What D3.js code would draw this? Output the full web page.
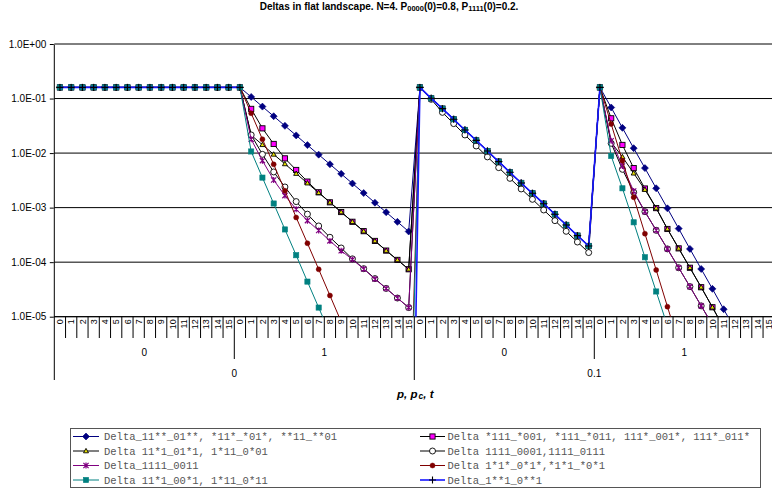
<!DOCTYPE html>
<html>
<head>
<meta charset="utf-8">
<script src="https://cdn.jsdelivr.net/npm/d3@7"></script>
<style>
  html, body { margin: 0; padding: 0; background: #fff; }
  svg { display: block; font-family: Arial, "Liberation Sans", sans-serif; }
</style>
</head>
<body>
<svg id="chart" width="772" height="492"></svg>
<script>
// ---- category levels: p (mutation), pc (crossover), t (generation) ----
const tSteps = ["0","1","2","3","4","5","6","7","8","9","10","11","12","13","14","15"];
const pcLevels = ["0", "1"];
const pLevels = ["0", "0.1"];
const yTicks = [1, 1e-1, 1e-2, 1e-3, 1e-4, 1e-5];

// ---- series values, one block of 16 generations per (p, pc) pair ----
// null = value that cannot be shown on the log axis (exact zero)
const noVariation = [0.16,0.16,0.16,0.16,0.16,0.16,0.16,0.16,0.16,0.16,0.16,0.16,0.16,0.16,0.16,0.16];
const mutationOnly = [0.16,0.101,0.0653,0.0416,0.0265,0.0171,0.0109,0.00697,0.00444,0.00283,0.00183,0.00118,7.55e-4,4.81e-4,3.06e-4,1.98e-4];

const delta11_01 = [...noVariation,
  0.16,0.107,0.0711,0.0474,0.0316,0.0211,0.0140,0.00936,0.00624,0.00416,0.00277,0.00185,0.00123,8.22e-4,5.48e-4,3.65e-4,
  ...mutationOnly,
  0.16,0.0685,0.0290,0.0123,0.00530,0.00226,9.7e-4,4.12e-4,1.75e-4,7.5e-5,3.24e-5,1.37e-5,5.9e-6,2.5e-6,1.07e-6,4.6e-7];

const delta111_001 = [...noVariation,
  0.16,0.0646,0.0284,0.0147,0.0080,0.0049,0.0030,0.00191,0.00125,8.3e-4,5.5e-4,3.7e-4,2.45e-4,1.63e-4,1.10e-4,7.41e-5,
  ...mutationOnly,
  0.16,0.0434,0.0141,0.0053,0.00224,9.8e-4,4.06e-4,1.79e-4,7.9e-5,3.47e-5,1.49e-5,6.3e-6,2.7e-6,1.15e-6,4.9e-7,2.1e-7];

const delta11x1_01x1 = [...noVariation,
  0.16,0.0213,0.0142,0.00948,0.00632,0.00421,0.00281,0.00187,0.00125,8.3e-4,5.5e-4,3.7e-4,2.45e-4,1.63e-4,1.10e-4,7.41e-5,
  ...mutationOnly,
  0.16,0.0158,0.0085,0.00427,0.00214,9.8e-4,4.06e-4,1.79e-4,7.9e-5,3.47e-5,1.49e-5,6.3e-6,2.7e-6,1.15e-6,4.9e-7,2.1e-7];

const delta1111_0001 = [...noVariation,
  0.16,0.0215,0.00948,0.00451,0.00239,0.00129,7.59e-4,4.61e-4,2.86e-4,1.82e-4,1.15e-4,7.6e-5,5.0e-5,3.3e-5,2.2e-5,1.47e-5,
  0.16,0.0968,0.0558,0.0347,0.0215,0.0135,0.00851,0.00541,0.00344,0.00220,0.00142,9.06e-4,5.77e-4,3.68e-4,2.34e-4,1.50e-4,
  0.16,0.0151,0.00504,0.00191,8.43e-4,3.84e-4,1.75e-4,7.9e-5,3.56e-5,1.58e-5,7.1e-6,3.2e-6,1.4e-6,6.4e-7,2.9e-7,1.3e-7];

const delta1111_0011 = [...noVariation,
  0.16,0.0179,0.00726,0.00321,0.00166,9.33e-4,5.77e-4,3.80e-4,2.45e-4,1.62e-4,1.12e-4,7.5e-5,4.9e-5,3.3e-5,2.2e-5,1.47e-5,
  ...mutationOnly,
  0.16,0.0169,0.0058,0.00202,8.43e-4,3.84e-4,1.75e-4,7.9e-5,3.56e-5,1.58e-5,7.1e-6,3.2e-6,1.4e-6,6.4e-7,2.9e-7,1.3e-7];

const delta1x1x_0x1x = [...noVariation,
  0.16,0.0537,0.0179,0.00622,0.00204,6.6e-4,2.22e-4,7.4e-5,2.45e-5,8.1e-6,2.7e-6,9.0e-7,3.0e-7,1.0e-7,3.3e-8,1.1e-8,
  ...mutationOnly,
  0.16,0.0341,0.00726,0.00155,3.33e-4,7.2e-5,1.53e-5,3.3e-6,7.0e-7,1.5e-7,3.2e-8,6.8e-9,1.5e-9,3.1e-10,6.6e-11,1.4e-11];

const delta11x1_00x1 = [...noVariation,
  0.16,0.0107,0.00355,0.00119,3.98e-4,1.34e-4,4.4e-5,1.47e-5,4.9e-6,1.6e-6,5.4e-7,1.8e-7,6.0e-8,2.0e-8,6.7e-9,2.2e-9,
  ...mutationOnly,
  0.16,0.00885,0.00226,5.38e-4,1.23e-4,2.9e-5,6.8e-6,1.6e-6,3.5e-7,7.5e-8,1.6e-8,3.4e-9,7.3e-10,1.6e-10,3.3e-11,7.1e-12];

const delta1xx1_0xx1 = [...noVariation,
  0.16,null,null,null,null,null,null,null,null,null,null,null,null,null,null,2.5e-13,
  ...mutationOnly,
  0.16,null,null,null,null,null,null,null,null,null,null,null,null,null,null,null];

const seriesNames = [
  "Delta_11**_01**, *11*_*01*, **11_**01",
  "Delta *111_*001, *111_*011, 111*_001*, 111*_011*",
  "Delta 11*1_01*1, 1*11_0*01",
  "Delta 1111_0001,1111_0111",
  "Delta_1111_0011",
  "Delta 1*1*_0*1*,*1*1_*0*1",
  "Delta 11*1_00*1, 1*11_0*11",
  "Delta_1**1_0**1"
];
const seriesValues = [delta11_01, delta111_001, delta11x1_01x1, delta1111_0001,
                      delta1111_0011, delta1x1x_0x1x, delta11x1_00x1, delta1xx1_0xx1];

// ---- drawing styles ----
const styles = [
  { line: "#000080", width: 1,   marker: "diamond" },
  { line: "#000000", width: 1,   marker: "squareMagenta" },
  { line: "#000000", width: 1,   marker: "triangle" },
  { line: "#000000", width: 1,   marker: "circleOpen" },
  { line: "#800080", width: 1,   marker: "star" },
  { line: "#800000", width: 1,   marker: "dot" },
  { line: "#008080", width: 1,   marker: "squareTeal" },
  { line: "#1515ff", width: 1.6, marker: "plus" }
];

const categories = [];
pLevels.forEach(p => pcLevels.forEach(pc => tSteps.forEach(t => categories.push({ p, pc, t }))));

const svg = d3.select("#chart");
const plotL = 54.3, plotR = 774.3, plotT = 44, plotB = 316.7;

const x = d3.scaleBand().domain(d3.range(categories.length)).range([plotL, plotR]);
const step = x.step();
const cx = i => x(i) + x.bandwidth() / 2;
const y = d3.scaleLog().domain([1e-5, 1]).range([plotB, plotT]);

// ---- title ----
const title = svg.append("text")
  .attr("x", 389).attr("y", 10)
  .attr("text-anchor", "middle")
  .attr("font-size", 10).attr("font-weight", "bold");
title.append("tspan").text("Deltas in flat landscape. N=4. P");
title.append("tspan").attr("font-size", 7.5).attr("dy", 0.5).text("0000");
title.append("tspan").attr("dy", -0.5).text("(0)=0.8, P");
title.append("tspan").attr("font-size", 7.5).attr("dy", 0.5).text("1111");
title.append("tspan").attr("dy", -0.5).text("(0)=0.2.");

// ---- horizontal gridlines ----
svg.append("g").selectAll("line").data(yTicks).join("line")
  .attr("x1", plotL).attr("x2", 772)
  .attr("y1", d => y(d)).attr("y2", d => y(d))
  .attr("stroke", "#000").attr("stroke-width", 1);

// ---- y axis ----
const fmtExp = d => {
  const e = Math.round(Math.log10(d));
  return "1.0E" + (e < 0 ? "-" : "+") + String(Math.abs(e)).padStart(2, "0");
};
const yAxis = svg.append("g")
  .attr("transform", `translate(${plotL - 0.5},0)`)
  .call(d3.axisLeft(y).tickValues(yTicks).tickSize(4).tickSizeOuter(0).tickFormat(fmtExp));
yAxis.select(".domain").attr("stroke", "#000");
yAxis.selectAll(".tick line").attr("stroke", "#000");
yAxis.selectAll(".tick text")
  .attr("font-family", "Arial, 'Liberation Sans', sans-serif")
  .attr("font-size", 10).attr("fill", "#000").attr("x", -7.5);

// ---- x axis (three category levels) ----
const xg = svg.append("g");
xg.append("line").attr("x1", plotL).attr("x2", plotR)
  .attr("y1", plotB).attr("y2", plotB).attr("stroke", "#000");

const boundaries = d3.range(categories.length + 1);
xg.selectAll("line.sep").data(boundaries).join("line")
  .attr("class", "sep")
  .attr("x1", i => plotL + i * step).attr("x2", i => plotL + i * step)
  .attr("y1", plotB)
  .attr("y2", i => i % 32 === 0 ? 380 : (i % 16 === 0 ? 359 : 338))
  .attr("stroke", "#000").attr("stroke-width", 1);

xg.selectAll("text.t").data(categories).join("text")
  .attr("class", "t")
  .attr("transform", (d, i) => `translate(${cx(i) + 3.2},${plotB + 2.5}) rotate(-90)`)
  .attr("text-anchor", "end")
  .attr("font-size", 9)
  .text(d => d.t);

const pcGroups = d3.range(categories.length / 16);
xg.selectAll("text.pc").data(pcGroups).join("text")
  .attr("class", "pc")
  .attr("x", g => plotL + (g * 16 + 8) * step).attr("y", 355.5)
  .attr("text-anchor", "middle").attr("font-size", 10)
  .text(g => categories[g * 16].pc);

const pGroups = d3.range(categories.length / 32);
xg.selectAll("text.p").data(pGroups).join("text")
  .attr("class", "p")
  .attr("x", g => plotL + (g * 32 + 16) * step).attr("y", 377)
  .attr("text-anchor", "middle").attr("font-size", 10)
  .text(g => categories[g * 32].p);

const xTitle = svg.append("text")
  .attr("x", (plotL + plotR) / 2 + 1).attr("y", 398)
  .attr("text-anchor", "middle")
  .attr("font-size", 11.5).attr("font-weight", "bold").attr("font-style", "italic");
xTitle.append("tspan").text("p, p");
xTitle.append("tspan").attr("font-size", 8.5).attr("dx", 1).attr("dy", 1).text("c");
xTitle.append("tspan").attr("dy", -1).text(", t");

// ---- markers ----
function drawMarker(g, type, mx, my) {
  switch (type) {
    case "diamond":
      g.append("path").attr("d", `M${mx},${my - 3.5}L${mx + 3.5},${my}L${mx},${my + 3.5}L${mx - 3.5},${my}Z`)
        .attr("fill", "#000080").attr("stroke", "#000080").attr("stroke-width", 0.6);
      break;
    case "squareMagenta":
      g.append("rect").attr("x", mx - 2.6).attr("y", my - 2.6).attr("width", 5.2).attr("height", 5.2)
        .attr("fill", "#ff00ff").attr("stroke", "#000").attr("stroke-width", 0.9);
      break;
    case "triangle":
      g.append("path").attr("d", `M${mx},${my - 2.6}L${mx + 2.5},${my + 1.8}L${mx - 2.5},${my + 1.8}Z`)
        .attr("fill", "#e8e000").attr("stroke", "#000").attr("stroke-width", 0.9);
      break;
    case "circleOpen":
      g.append("circle").attr("cx", mx).attr("cy", my).attr("r", 3)
        .attr("fill", "#fff").attr("stroke", "#000").attr("stroke-width", 0.9);
      break;
    case "star":
      g.append("path").attr("d",
        `M${mx - 2.6},${my - 2.6}L${mx + 2.6},${my + 2.6}M${mx - 2.6},${my + 2.6}L${mx + 2.6},${my - 2.6}M${mx},${my - 3}L${mx},${my + 3}`)
        .attr("stroke", "#800080").attr("stroke-width", 1.2).attr("fill", "none");
      break;
    case "dot":
      g.append("circle").attr("cx", mx).attr("cy", my).attr("r", 2.5)
        .attr("fill", "#800000").attr("stroke", "#800000").attr("stroke-width", 0.5);
      break;
    case "squareTeal":
      g.append("rect").attr("x", mx - 2.6).attr("y", my - 2.6).attr("width", 5.2).attr("height", 5.2)
        .attr("fill", "#008080").attr("stroke", "#008080").attr("stroke-width", 0.6);
      break;
    case "plus":
      g.append("path").attr("d", `M${mx - 3.5},${my}L${mx + 3.5},${my}M${mx},${my - 3.5}L${mx},${my + 3.5}`)
        .attr("stroke", "#000").attr("stroke-width", 1.1).attr("fill", "none");
      break;
  }
}

// ---- series ----
svg.append("defs").append("clipPath").attr("id", "plotClip")
  .append("rect").attr("x", plotL).attr("y", 0).attr("width", plotR - plotL + 2).attr("height", plotB);

const plot = svg.append("g").attr("clip-path", "url(#plotClip)");
const line = d3.line()
  .defined(d => d != null)
  .x((d, i) => cx(i)).y(d => y(d));

seriesValues.forEach((vals, s) => {
  const st = styles[s];
  const g = plot.append("g");
  g.append("path").datum(vals)
    .attr("d", line)
    .attr("fill", "none")
    .attr("stroke", st.line)
    .attr("stroke-width", st.width)
    .attr("stroke-linejoin", "round");
  vals.forEach((v, i) => {
    if (v != null && v >= 1e-5) drawMarker(g, st.marker, cx(i), y(v));
  });
});

// ---- legend ----
const legend = svg.append("g");
legend.append("rect").attr("x", 70.5).attr("y", 428.5).attr("width", 690).attr("height", 59)
  .attr("fill", "#fff").attr("stroke", "#555").attr("stroke-width", 1);

const rowY = [436.5, 451, 465.5, 480];
seriesNames.forEach((name, s) => {
  const col = s % 2, row = Math.floor(s / 2);
  const x0 = col === 0 ? 73 : 420, x1 = col === 0 ? 99 : 445;
  const tx = col === 0 ? 104 : 447.5;
  const ly = rowY[row];
  const g = legend.append("g");
  g.append("line").attr("x1", x0).attr("x2", x1).attr("y1", ly).attr("y2", ly)
    .attr("stroke", styles[s].line).attr("stroke-width", styles[s].width);
  drawMarker(g, styles[s].marker, (x0 + x1) / 2, ly);
  g.append("text").attr("x", tx).attr("y", ly + 3.5)
    .attr("font-family", "'Liberation Mono', 'Courier New', monospace")
    .attr("font-size", 10.5).attr("fill", "#555")
    .text(name);
});
</script>
</body>
</html>
